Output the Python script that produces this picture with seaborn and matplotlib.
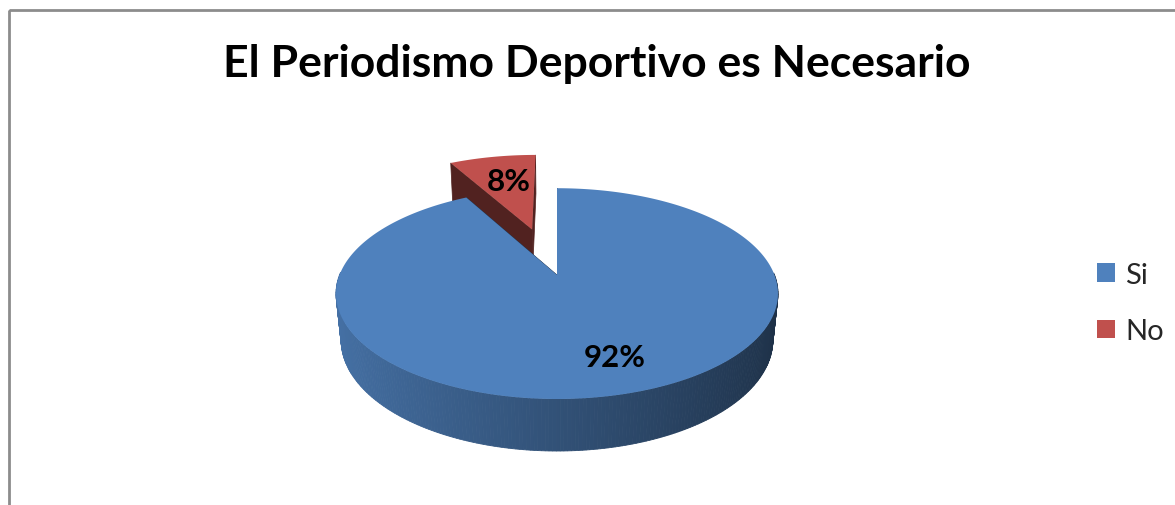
import numpy as np
import seaborn as sns
import matplotlib.pyplot as plt
from matplotlib.patches import Patch, Rectangle

# chart data
categories = ["Si", "No"]
percentages = [92, 8]
pct_labels = ["92%", "8%"]
title_text = "El Periodismo Deportivo es Necesario"

sns.set_theme(style="white")
plt.rcParams['font.family'] = ['Lato', 'DejaVu Sans']
colors = sns.color_palette(["#4F81BD", "#C0504D"])

# fake 3d view (perspective) settings
ELEV = np.radians(28)
DIST = 5.0
DEPTH = 0.244
SCALE = 217.5
CX, CY = 557, 276
EXPLODE = [0.0, 0.5]


def project(x, y, z):
    x = np.asarray(x, float)
    y = np.asarray(y, float)
    z = np.asarray(z, float)
    v = y*np.sin(ELEV) + z*np.cos(ELEV)
    w = y*np.cos(ELEV) - z*np.sin(ELEV)
    s = 1.0/(1.0 + w/DIST)
    return CX + SCALE*x*s, CY - SCALE*v*s


def shade(c, f):
    return tuple(np.clip(np.array(c)*f, 0, 1))


fig = plt.figure(figsize=(11.75, 5.06), dpi=100)
ax = fig.add_axes([0, 0, 1, 1])
ax.set_xlim(0, 1175)
ax.set_ylim(506, 0)
ax.axis('off')

fracs = np.array(percentages, float)/np.sum(percentages)
ends = np.cumsum(fracs)
starts = ends - fracs

wedges = []
for i, (s0, s1) in enumerate(zip(starts, ends)):
    t1 = 90 - 360*s0
    t2 = 90 - 360*s1
    mid = np.radians((t1 + t2)/2)
    ox, oy = EXPLODE[i]*np.cos(mid), EXPLODE[i]*np.sin(mid)
    wedges.append((i, t2, t1, mid, ox, oy))

# back wedges first
for i, t2, t1, mid, ox, oy in sorted(wedges, key=lambda w: -w[5]):
    base = colors[i]
    # radial cut faces
    for t in (t1, t2):
        a = np.radians(t)
        xs = np.array([ox, ox + np.cos(a), ox + np.cos(a), ox])
        ys = np.array([oy, oy + np.sin(a), oy + np.sin(a), oy])
        zs = np.array([0, 0, -DEPTH, -DEPTH])
        px, py = project(xs, ys, zs)
        ax.fill(px, py, color=shade(base, 0.42), lw=0.5)
    # outer curved side, front part only
    angs = np.radians(np.linspace(t2, t1, 400))
    for a0, a1 in zip(angs[:-1], angs[1:]):
        am = (a0 + a1)/2
        if np.sin(am) > 0.02:
            continue
        xs = ox + np.cos([a0, a1, a1, a0])
        ys = oy + np.sin([a0, a1, a1, a0])
        zs = np.array([0, 0, -DEPTH, -DEPTH])
        px, py = project(xs, ys, zs)
        c = shade(base, 0.63 - 0.25*np.cos(am))
        ax.fill(px, py, color=c, lw=0.6)
    # top face
    xs = np.concatenate([[ox], ox + np.cos(angs)])
    ys = np.concatenate([[oy], oy + np.sin(angs)])
    px, py = project(xs, ys, np.zeros_like(xs))
    ax.fill(px, py, color=base, lw=0)

# percentage labels
label_r = [0.75, 0.6]
label_dx = [11, 2]
label_dy = [-3, -2]
for i, t2, t1, mid, ox, oy in wedges:
    lx, ly = project(ox + label_r[i]*np.cos(mid), oy + label_r[i]*np.sin(mid), 0)
    ax.text(lx + label_dx[i], ly + label_dy[i], pct_labels[i], ha='center', va='center',
            fontsize=22.5, fontweight='bold', color='black')

ax.text(597, 64, title_text, ha='center', va='center',
        fontsize=32, fontweight='bold', color='black')

handles = [Patch(facecolor=colors[i], edgecolor='none') for i in range(len(categories))]
ax.legend(handles, categories, loc='center left', bbox_to_anchor=(1097/1175, 1 - 304/506),
          frameon=False, fontsize=21, handlelength=0.62, handleheight=0.62,
          handletextpad=0.35, labelspacing=1.05, borderpad=0, borderaxespad=0)

ax.add_patch(Rectangle((8.5, 11), 1400, 700, fill=False, ec='#8c8c8c', lw=2))

plt.savefig("out.png", dpi=100)
